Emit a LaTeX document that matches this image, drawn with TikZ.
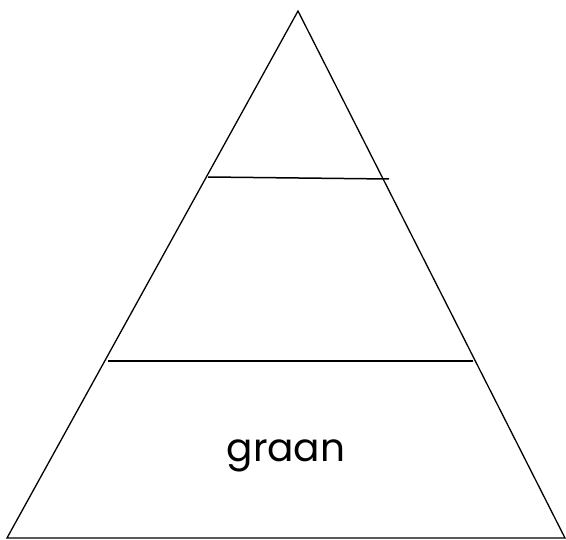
\documentclass[tikz,border=0pt]{standalone}
\usepackage{fontspec}
\setmainfont{Poppins}
\usepackage{tikz}
\usetikzlibrary{calc}
\tikzset{
    pyrline/.style={line width=1.3pt, draw=black, line join=miter},
    layerline/.style={line width=1.5pt, draw=black},
    layerlabel/.style={font=\fontsize{39}{44}\selectfont, text=black, inner sep=0pt}
}

\begin{document}
\begin{tikzpicture}[x=1pt, y=-1pt]

    % fixed frame: same size as the reference
    \useasboundingbox (0,0) rectangle (566,540);

    % =========================================================================
    % PYRAMID: outline
    % =========================================================================
    \coordinate (apex)  at (298, 11);
    \coordinate (left)  at (7, 538);
    \coordinate (right) at (565, 538);
    \draw[pyrline] (apex) -- (left) -- (right) -- cycle;

    % =========================================================================
    % LAYERS: dividing lines
    % =========================================================================
    \coordinate (topL) at (208, 177);
    \coordinate (topR) at (389, 179);
    \draw[layerline] (topL) -- (topR);

    \coordinate (midL) at (108, 361);
    \coordinate (midR) at (473, 361);
    \draw[layerline] (midL) -- (midR);

    % bottom layer label
    \node[layerlabel, anchor=base] (graan) at (286, 462) {graan};
\end{tikzpicture}
\end{document}
